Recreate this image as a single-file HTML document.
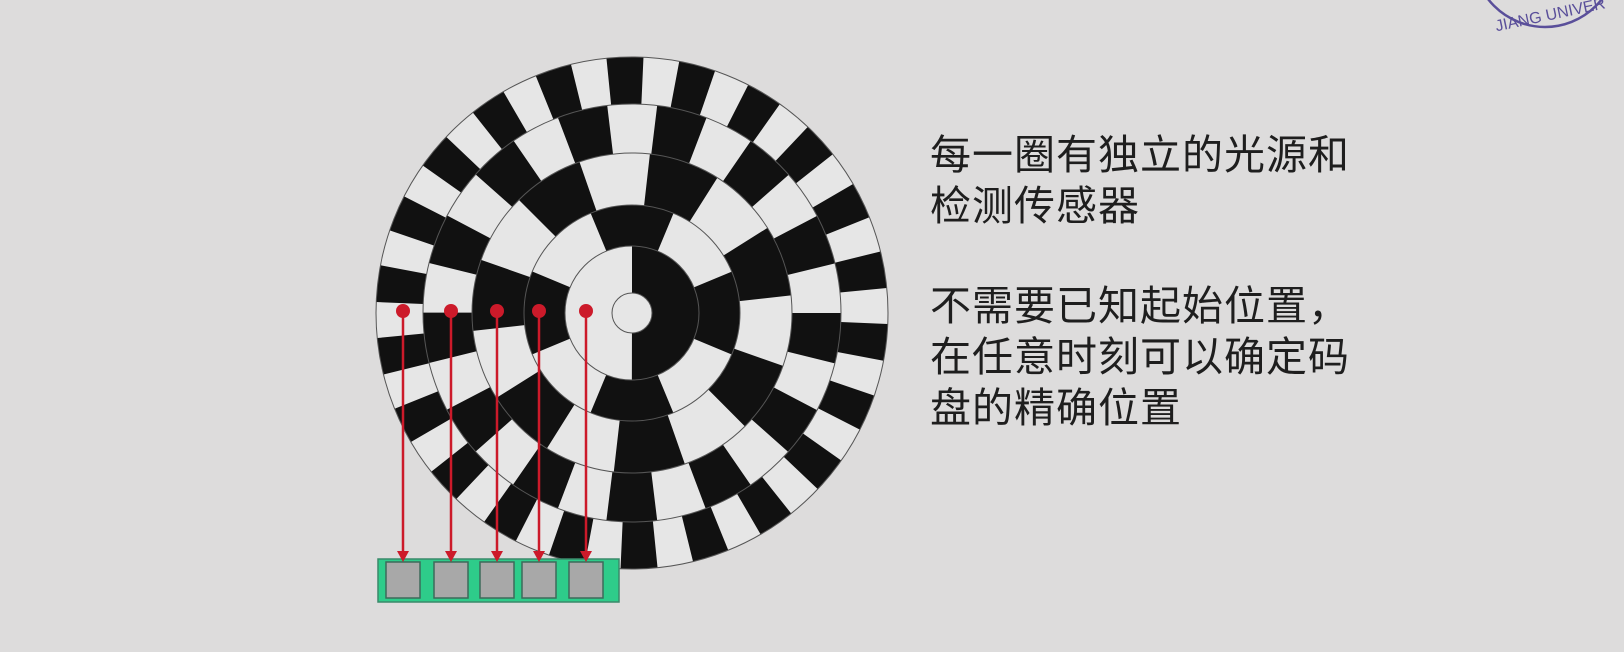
<!DOCTYPE html>
<html><head><meta charset="utf-8"><style>
html,body{margin:0;padding:0;background:#dddcdc;}
#wrap{position:relative;width:1624px;height:652px;overflow:hidden;background:#dddcdc;}
.txt{position:absolute;left:930px;font-family:"Liberation Sans","Noto Sans CJK SC",sans-serif;font-size:41px;line-height:51px;color:#1e1e1e;letter-spacing:1px;}
</style></head><body>
<div id="wrap">
<svg id="svg" width="1624" height="652" style="position:absolute;left:0;top:0">
  <g id="disc"></g>
  <g id="sensors"></g>
  <g>
    <circle cx="1545" cy="-45" r="72" fill="none" stroke="#5a4f9a" stroke-width="2.5"/>
    <text x="1494" y="22" font-family="Liberation Sans, sans-serif" font-size="16" fill="#5a4f9a" transform="rotate(-12 1540 15)">JIANG UNIVER</text>
  </g>
</svg>
<div class="txt" style="top:130px">每一圈有独立的光源和<br>检测传感器</div>
<div class="txt" style="top:281px">不需要已知起始位置，<br>在任意时刻可以确定码<br>盘的精确位置</div>
</div>
<script>
const ringRadii = [20, 67, 108, 160, 209, 256];
const ringSegments = [2, 8, 14, 26, 44];
const ringOffsets = [0, 0.5, 0.25, 0.5, 0.3];
const sensorX = [403, 451, 497, 539, 586];
const cx = 632, cy = 313;
const NS = 'http://www.w3.org/2000/svg';
const disc = document.getElementById('disc');
function mk(tag, attrs, parent){const e=document.createElementNS(NS,tag);for(const k in attrs)e.setAttribute(k,attrs[k]);parent.appendChild(e);return e;}
mk('circle',{cx:cx,cy:cy,r:ringRadii[5],fill:'#e6e6e6'},disc);
function pt(r,a){return [cx+r*Math.cos(a),cy+r*Math.sin(a)];}
for(let i=0;i<5;i++){
  const r0=ringRadii[i],r1=ringRadii[i+1],n=ringSegments[i];
  const step=2*Math.PI/n;
  for(let p=0;p<n;p++){
    if(p%2===0) continue;
    const a0=Math.PI/2+(p+ringOffsets[i])*step, a1=a0+step+0.002;
    const A=pt(r0,a0),B=pt(r1,a0),C=pt(r1,a1),D=pt(r0,a1);
    const path=mk('path',{d:`M${A}L${B}A${r1},${r1} 0 0 1 ${C}L${D}A${r0},${r0} 0 0 0 ${A}Z`,fill:'#111'},disc);
    
    
  }
}
for(let i=0;i<ringRadii.length;i++){
  const c=mk('circle',{cx:cx,cy:cy,r:ringRadii[i],fill:i===0?'#e6e6e6':'none',stroke:'#555','stroke-width':1},disc);
  
  
}
const sg=document.getElementById('sensors');
const bar=mk('rect',{x:378,y:559,width:241,height:43,fill:'#2ecc8a',stroke:'#3a8a6a','stroke-width':1.5},sg);


sensorX.forEach(x=>{
  const sq=mk('rect',{x:x-17,y:562,width:34,height:36,fill:'#a8a8a8',stroke:'#3d6a5a','stroke-width':1.5},sg);
  
  
  const ln=mk('line',{x1:x,y1:311,x2:x,y2:552,stroke:'#cc1a2a','stroke-width':2.5},sg);
  
  
  const ah=mk('path',{d:`M${x-6},551L${x+6},551L${x},562Z`,fill:'#cc1a2a'},sg);
  
  
  const dot=mk('circle',{cx:x,cy:311,r:7,fill:'#cc1a2a'},sg);
  
  
});
</script>
</body></html>
